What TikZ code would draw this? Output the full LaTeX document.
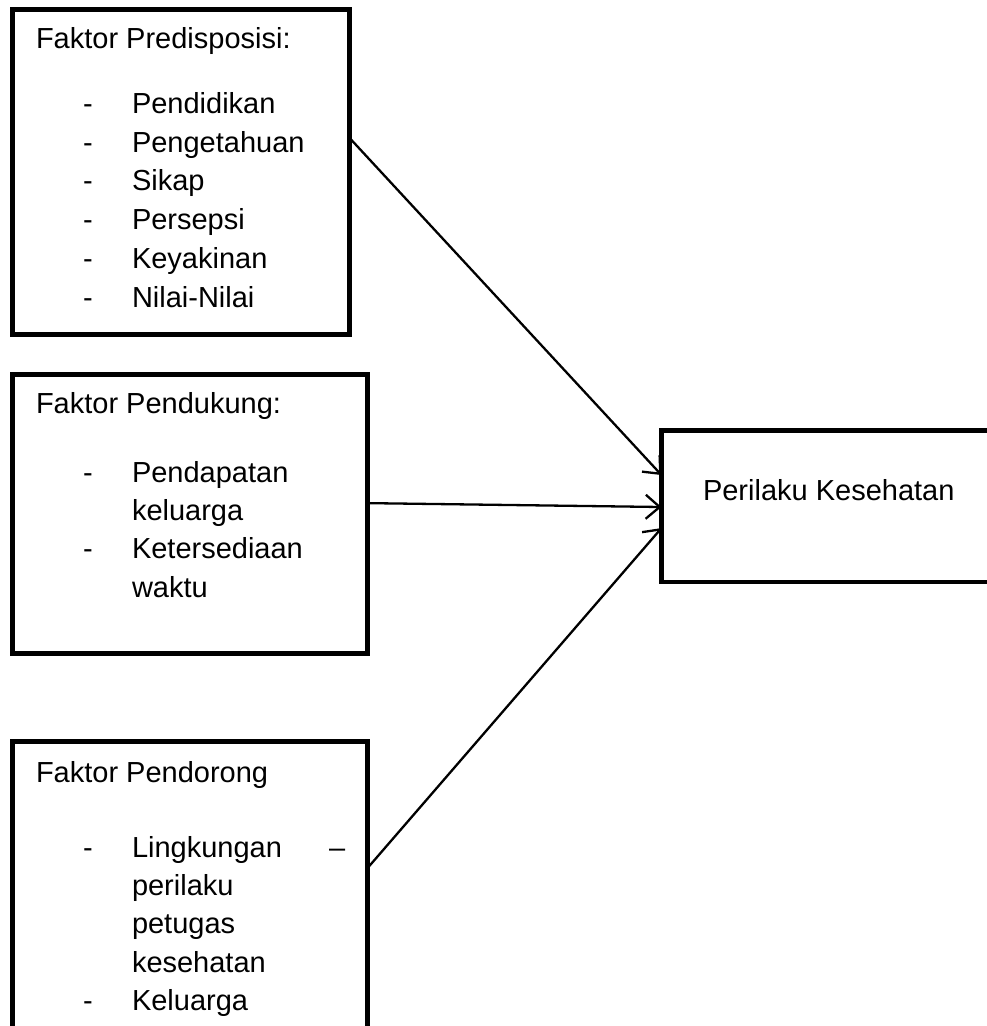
\documentclass[tikz,border=0pt]{standalone}
\usepackage{fontspec}
\setmainfont{Liberation Sans}
\usetikzlibrary{arrows.meta,calc}
\newcommand\fsz{\fontsize{29}{35}\selectfont}
\tikzset{
  box/.style={draw, line width=4.6pt, inner sep=0pt, outer sep=0pt, anchor=north west},
  txt/.style={anchor=base west, inner sep=0pt, outer sep=0pt, font=\fsz},
  conn/.style={line width=2.3pt, -{Straight Barb[length=14pt,width=24pt,line width=2.3pt]}}
}
\begin{document}
\begin{tikzpicture}[x=1pt,y=-1pt]
\useasboundingbox (0,0) rectangle (987,1026);
\clip (0,0) rectangle (987,1026);
% boxes
\node[box, minimum width=337pt, minimum height=325pt] (b1) at (12.5,9.5) {};
\node[box, minimum width=355pt, minimum height=279pt] (b2) at (12.5,374.5) {};
\node[box, minimum width=355pt, minimum height=300pt] (b3) at (12.5,741.5) {};
\node[box, minimum width=360pt, minimum height=151.5pt] (b4) at (661.5,430.5) {};
% box 1 text
\node[txt] (t1) at (36,48) {Faktor Predisposisi:};
\node[txt] (d11) at (83,113) {-};
\node[txt] (i11) at (132,113) {Pendidikan};
\node[txt] (d12) at (83,152) {-};
\node[txt] (i12) at (132,152) {Pengetahuan};
\node[txt] (d13) at (83,190) {-};
\node[txt] (i13) at (132,190) {Sikap};
\node[txt] (d14) at (83,229) {-};
\node[txt] (i14) at (132,229) {Persepsi};
\node[txt] (d15) at (83,268) {-};
\node[txt] (i15) at (132,268) {Keyakinan};
\node[txt] (d16) at (83,307) {-};
\node[txt] (i16) at (132,307) {Nilai-Nilai};
% box 2 text
\node[txt] (t2) at (36,413) {Faktor Pendukung:};
\node[txt] (d21) at (83,482) {-};
\node[txt] (i21) at (132,482) {Pendapatan};
\node[txt] (i22) at (132,520) {keluarga};
\node[txt] (d23) at (83,558) {-};
\node[txt] (i23) at (132,558) {Ketersediaan};
\node[txt] (i24) at (132,597) {waktu};
% box 3 text
\node[txt] (t3) at (36,782) {Faktor Pendorong};
\node[txt] (d31) at (83,857) {-};
\node[txt] (i31) at (132,857) {Lingkungan};
\node[txt] (e31) at (329,857) {–};
\node[txt] (i32) at (132,895) {perilaku};
\node[txt] (i33) at (132,933) {petugas};
\node[txt] (i34) at (132,972) {kesehatan};
\node[txt] (d35) at (83,1010) {-};
\node[txt] (i35) at (132,1010) {Keluarga};
% box 4 text
\node[txt] (t4) at (703,500) {Perilaku Kesehatan};
% connectors
\draw[conn] ($(b1.north east)!0.395!(b1.south east)$) -- ($(b4.north west)!0.294!(b4.south west)$);
\draw[conn] ($(b2.north east)!0.461!(b2.south east)$) -- ($(b4.north west)!0.505!(b4.south west)$);
\draw[conn] ($(b3.north east)!0.422!(b3.south east)$) -- ($(b4.north west)!0.644!(b4.south west)$);
\end{tikzpicture}
\end{document}
